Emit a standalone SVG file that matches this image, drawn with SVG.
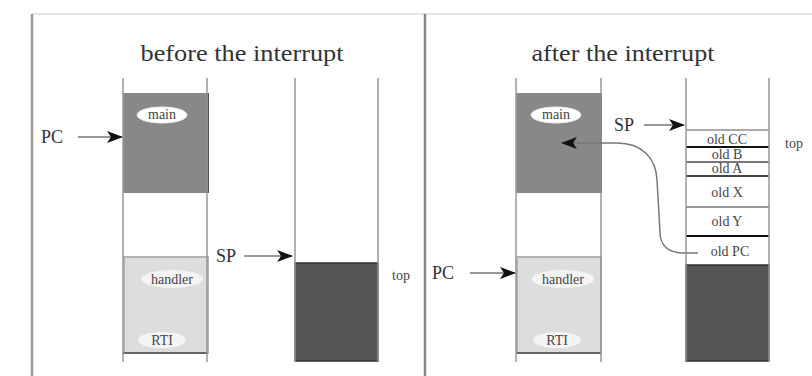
<svg xmlns="http://www.w3.org/2000/svg" width="812" height="376" viewBox="0 0 812 376">
<style>
.title{font-family:"Liberation Serif",serif;font-size:24px;fill:#333;text-anchor:middle}
.lbl{font-family:"Liberation Serif",serif;font-size:18px;fill:#333}
.sm{font-family:"Liberation Serif",serif;font-size:14px;fill:#444;text-anchor:middle}
.st{font-family:"Liberation Serif",serif;font-size:14px;fill:#444;text-anchor:middle}
.rail{stroke:#999;stroke-width:1.5}
.conn{stroke:#777;stroke-width:1.5;fill:none}
.oval{fill:#fff;stroke:#eee}
</style>
<defs>
<marker id="ah" viewBox="0 0 16 12" refX="15" refY="6" markerWidth="16" markerHeight="12" markerUnits="userSpaceOnUse" orient="auto">
<path d="M0,0 L16,6 L0,12 L4,6 z" fill="#111"/>
</marker>
</defs>
<rect width="812" height="376" fill="#fff"/>
<g id="frame">
<line x1="32" y1="14" x2="812" y2="14" stroke="#e4e4e4" stroke-width="2"/>
<line x1="32" y1="14" x2="32" y2="376" stroke="#999" stroke-width="2.5"/>
<line x1="425" y1="14" x2="425" y2="376" stroke="#888" stroke-width="2.5"/>
</g>
<text class="title" x="242" y="61" textLength="203" lengthAdjust="spacingAndGlyphs">before the interrupt</text>
<text class="title" x="623" y="61" textLength="183" lengthAdjust="spacingAndGlyphs">after the interrupt</text>

<g id="prog-before">
<rect x="123" y="93" width="85" height="100" fill="#888"/>
<line x1="208" y1="93" x2="208" y2="193" stroke="#555" stroke-width="2"/>
<rect x="124" y="257" width="84" height="96" fill="#ddd" stroke="#b4b4b4" stroke-width="2"/>
<line x1="123" y1="353" x2="208" y2="353" stroke="#666" stroke-width="2"/>
<line class="rail" x1="123" y1="78" x2="123" y2="362"/>
<line class="rail" x1="207" y1="78" x2="207" y2="362"/>
<ellipse class="oval" cx="162" cy="115" rx="25" ry="8"/>
<text class="sm" x="162" y="119" font-size="12">main</text>
<ellipse cx="172" cy="279" rx="31" ry="9" fill="#f4f4f4"/>
<text class="sm" x="172" y="284">handler</text>
<ellipse cx="162" cy="340" rx="24" ry="8" fill="#f4f4f4"/>
<text class="sm" x="162" y="345">RTI</text>
</g>
<g id="stack-before">
<rect x="295" y="263" width="83" height="98" fill="#555" stroke="#333" stroke-width="1.5"/>
<line class="rail" x1="295" y1="78" x2="295" y2="362"/>
<line class="rail" x1="378" y1="78" x2="378" y2="362"/>
<text class="sm" x="401" y="280">top</text>
</g>
<g id="labels-before">
<text class="lbl" x="41" y="143">PC</text>
<text class="lbl" x="216" y="262">SP</text>
</g>

<g id="prog-after">
<rect x="516" y="93" width="85" height="100" fill="#888"/>
<line x1="601" y1="93" x2="601" y2="193" stroke="#555" stroke-width="2"/>
<rect x="517" y="257" width="84" height="96" fill="#ddd" stroke="#b4b4b4" stroke-width="2"/>
<line x1="516" y1="353" x2="601" y2="353" stroke="#666" stroke-width="2"/>
<line class="rail" x1="516" y1="78" x2="516" y2="362"/>
<line class="rail" x1="601" y1="78" x2="601" y2="362"/>
<ellipse class="oval" cx="556" cy="115" rx="25" ry="8"/>
<text class="sm" x="556" y="119" font-size="12">main</text>
<ellipse cx="563" cy="279" rx="31" ry="9" fill="#f4f4f4"/>
<text class="sm" x="563" y="284">handler</text>
<ellipse cx="557" cy="340" rx="24" ry="8" fill="#f4f4f4"/>
<text class="sm" x="557" y="345">RTI</text>
</g>
<g id="stack-after">
<rect x="686" y="130" width="83" height="135" fill="#fff"/>
<rect x="686" y="265" width="83" height="96" fill="#555" stroke="#333" stroke-width="1.5"/>
<line x1="686" y1="130" x2="769" y2="130" stroke="#aaa" stroke-width="2"/>
<line x1="686" y1="147" x2="769" y2="147" stroke="#111" stroke-width="2"/>
<line x1="686" y1="162" x2="769" y2="162" stroke="#777" stroke-width="2"/>
<line x1="686" y1="176" x2="769" y2="176" stroke="#444" stroke-width="2"/>
<line x1="686" y1="207" x2="769" y2="207" stroke="#999" stroke-width="2"/>
<line x1="686" y1="236" x2="769" y2="236" stroke="#111" stroke-width="2"/>
<line class="rail" x1="686" y1="78" x2="686" y2="362"/>
<line class="rail" x1="769" y1="78" x2="769" y2="362"/>
<text class="st" x="727" y="144">old CC</text>
<text class="st" x="727" y="159">old B</text>
<text class="st" x="727" y="173">old A</text>
<text class="st" x="727" y="197">old X</text>
<text class="st" x="727" y="226">old Y</text>
<text class="st" x="730" y="256">old PC</text>
<text class="sm" x="794" y="148">top</text>
</g>
<g id="labels-after">
<text class="lbl" x="432" y="279">PC</text>
<text class="lbl" x="614" y="131">SP</text>
</g>

<g id="connectors">
<line class="conn" x1="78" y1="137" x2="122" y2="137" marker-end="url(#ah)"/>
<line class="conn" x1="244" y1="256" x2="292" y2="256" marker-end="url(#ah)"/>
<line class="conn" x1="470" y1="273" x2="515" y2="273" marker-end="url(#ah)"/>
<line class="conn" x1="644" y1="125" x2="684" y2="125" marker-end="url(#ah)"/>
<path class="conn" d="M698,253 L684,253 C668,253 660,245 660,232 L657,180 C656,158 642,143 617,143 L562,143" marker-end="url(#ah)"/>
</g>
</svg>
